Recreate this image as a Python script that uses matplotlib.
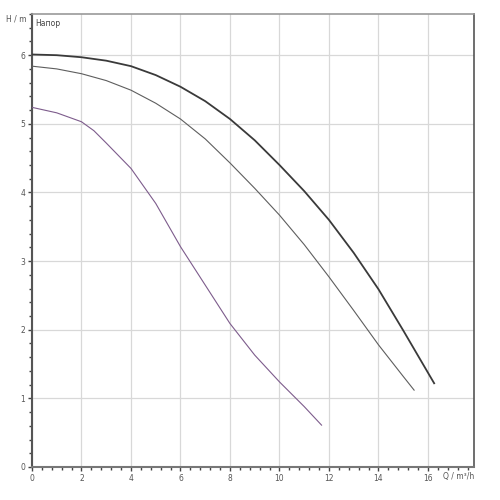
import matplotlib.pyplot as plt
from matplotlib.ticker import MultipleLocator

# Pump curves: flow Q (m³/h) vs head H (m)
q_max = [0, 1, 2, 3, 4, 5, 6, 7, 8, 9, 10, 11, 12, 13, 14, 15, 16.25]
h_max = [6.01, 6.00, 5.97, 5.92, 5.84, 5.71, 5.54, 5.33, 5.07, 4.76, 4.40, 4.02, 3.60, 3.12, 2.59, 1.99, 1.22]

q_mid = [0, 1, 2, 3, 4, 5, 6, 7, 8, 9, 10, 11, 12, 13, 14, 15, 15.44]
h_mid = [5.84, 5.80, 5.73, 5.63, 5.49, 5.30, 5.07, 4.78, 4.43, 4.06, 3.67, 3.24, 2.77, 2.28, 1.78, 1.32, 1.12]

q_low = [0, 1, 2, 2.5, 3, 4, 5, 6, 7, 8, 9, 10, 11, 11.7]
h_low = [5.24, 5.16, 5.03, 4.90, 4.72, 4.35, 3.84, 3.21, 2.65, 2.09, 1.63, 1.24, 0.88, 0.61]

x_ticks = [0, 2, 4, 6, 8, 10, 12, 14, 16]
y_ticks = [0, 1, 2, 3, 4, 5, 6]

fig = plt.figure(figsize=(5, 5), dpi=100)
ax = fig.add_axes([0.064, 0.066, 0.884, 0.906])

ax.plot(q_max, h_max, color='#3a3a3a', lw=1.3, zorder=3)
ax.plot(q_mid, h_mid, color='#5e5e5e', lw=0.8, zorder=3)
ax.plot(q_low, h_low, color='#7d5c8c', lw=0.8, zorder=3)

ax.set_xlim(0, 17.86)
ax.set_ylim(0, 6.6)
ax.set_xticks(x_ticks)
ax.set_yticks(y_ticks)
ax.xaxis.set_minor_locator(MultipleLocator(0.4))
ax.yaxis.set_minor_locator(MultipleLocator(0.2))
ax.grid(True, which='major', color='#d8d8d8', lw=0.9, zorder=0)

ax.tick_params(which='major', direction='out', length=3, width=1, color='#444444',
               labelsize=5.5, labelcolor='#555555', pad=2)
ax.tick_params(which='minor', direction='out', length=2, width=1, color='#444444')
ax.tick_params(top=False, right=False, which='both')

ax.spines['left'].set_color('#555555')
ax.spines['left'].set_linewidth(1.5)
ax.spines['bottom'].set_color('#777777')
ax.spines['bottom'].set_linewidth(1.5)
ax.spines['right'].set_color('#555555')
ax.spines['right'].set_linewidth(1.2)
ax.spines['top'].set_color('#999999')
ax.spines['top'].set_linewidth(1.2)

fig.text(0.052, 0.962, 'H / m', ha='right', va='center', fontsize=5.5, color='#555555')
ax.text(0.008, 0.99, 'Напор', transform=ax.transAxes, ha='left', va='top',
        fontsize=5.5, color='#444444')
fig.text(0.948, 0.046, 'Q / m³/h', ha='right', va='center', fontsize=5.5, color='#555555')

plt.savefig('out.png', dpi=100)
